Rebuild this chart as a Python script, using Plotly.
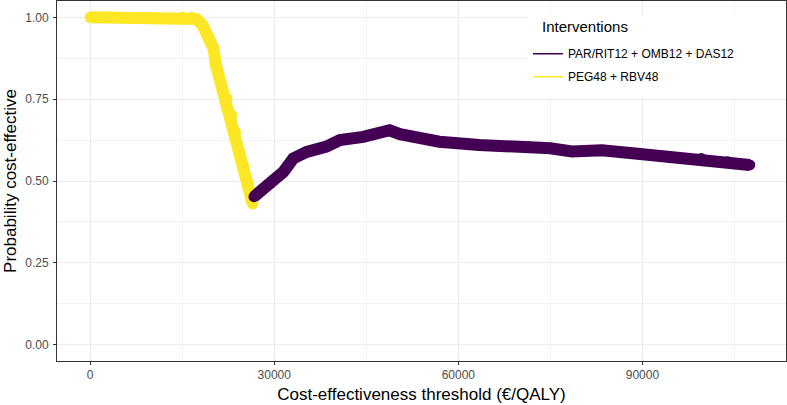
import plotly.graph_objects as go

# Threshold (EUR/QALY) and probability cost-effective
peg_x = [0, 5000, 10000, 15000, 16500, 17300, 18300, 19300, 20100, 20500, 21200,
         22300, 23100, 23700, 24200, 25000, 25700, 26100, 26500]
peg_y = [1.0, 1.0, 1.0, 1.0, 1.0, 0.995, 0.977, 0.941, 0.905, 0.854, 0.803,
         0.753, 0.701, 0.650, 0.600, 0.549, 0.498, 0.457, 0.430]

par_x = [26700, 27500, 29400, 31500, 33100, 35300, 38500, 40700, 44500, 47200,
         48800, 50500, 52600, 56900, 63400, 71500, 75000, 78500, 83400, 88800,
         94200, 99600, 103900, 107500]
par_y = [0.452, 0.465, 0.493, 0.528, 0.569, 0.589, 0.605, 0.625, 0.635, 0.648,
         0.655, 0.643, 0.635, 0.620, 0.610, 0.605, 0.600, 0.590, 0.594, 0.584,
         0.574, 0.569, 0.559, 0.549]

x_ticks = [0, 30000, 60000, 90000]
y_ticks = [0.0, 0.25, 0.5, 0.75, 1.0]
y_tick_labels = ["0.00", "0.25", "0.50", "0.75", "1.00"]

PURPLE = "#440154"
YELLOW = "#FDE725"
W = 12
FONT = "Liberation Sans, Arial, sans-serif"

fig = go.Figure()
fig.add_trace(go.Scatter(x=peg_x, y=peg_y, mode="lines+markers",
                         line=dict(color=YELLOW, width=W),
                         marker=dict(color=YELLOW, size=W - 1),
                         showlegend=False, hoverinfo="skip"))
fig.add_trace(go.Scatter(x=par_x, y=par_y, mode="lines+markers",
                         line=dict(color=PURPLE, width=W),
                         marker=dict(color=PURPLE, size=W - 1),
                         showlegend=False, hoverinfo="skip"))
# legend entries
fig.add_trace(go.Scatter(x=[None], y=[None], mode="lines", legendgroup="a",
                         line=dict(color=PURPLE, width=1.5),
                         name="PAR/RIT12 + OMB12 + DAS12"))
fig.add_trace(go.Scatter(x=[None], y=[None], mode="lines", legendgroup="b",
                         line=dict(color=YELLOW, width=1.5),
                         name="PEG48 + RBV48"))

axis_common = dict(
    showline=True, mirror=True, linecolor="#333333", linewidth=1,
    showgrid=True, gridcolor="#EBEBEB", gridwidth=1,
    zeroline=False, ticks="outside", ticklen=3, tickcolor="#333333",
    tickfont=dict(family=FONT, size=12, color="#4D4D4D"),
    automargin=False,
)

fig.update_xaxes(
    range=[-5400, 113400], tickvals=x_ticks, ticktext=[str(v) for v in x_ticks],
    minor=dict(tickvals=[15000, 45000, 75000, 105000], showgrid=True,
               gridcolor="#F2F2F2", gridwidth=0.6, ticks=""),
    title=dict(text="Cost-effectiveness threshold (€/QALY)",
               font=dict(family=FONT, size=17, color="black"),
               standoff=6),
    **axis_common)
fig.update_yaxes(
    range=[-0.05, 1.05], tickvals=y_ticks, ticktext=y_tick_labels,
    ticklabelstandoff=2,
    minor=dict(tickvals=[0.125, 0.375, 0.625, 0.875], showgrid=True,
               gridcolor="#F2F2F2", gridwidth=0.6, ticks=""),
    title=dict(text="Probability cost-effective",
               font=dict(family=FONT, size=17, color="black"),
               standoff=4),
    **axis_common)

# white legend background box and legend title
fig.add_shape(type="rect", xref="paper", yref="paper",
              x0=0.646, x1=1.0, y0=0.733, y1=0.964,
              fillcolor="white", line=dict(width=0), layer="above")
fig.add_annotation(text="Interventions", xref="paper", yref="paper",
                   x=0.6626, y=0.928, xanchor="left", yanchor="middle",
                   showarrow=False, font=dict(family=FONT, size=15, color="black"))

fig.update_layout(
    width=787, height=405,
    margin=dict(l=57, r=1, t=1, b=44),
    paper_bgcolor="white", plot_bgcolor="white",
    font=dict(family=FONT),
    legend=dict(
        font=dict(size=12, color="black"),
        x=0.646, y=0.894, xanchor="left", yanchor="top",
        bgcolor="rgba(0,0,0,0)", borderwidth=0, tracegroupgap=4,
    ),
)

fig.write_html("out.html", config={"displayModeBar": False},
               post_script="document.body.style.margin='0';document.body.style.overflow='hidden';")
